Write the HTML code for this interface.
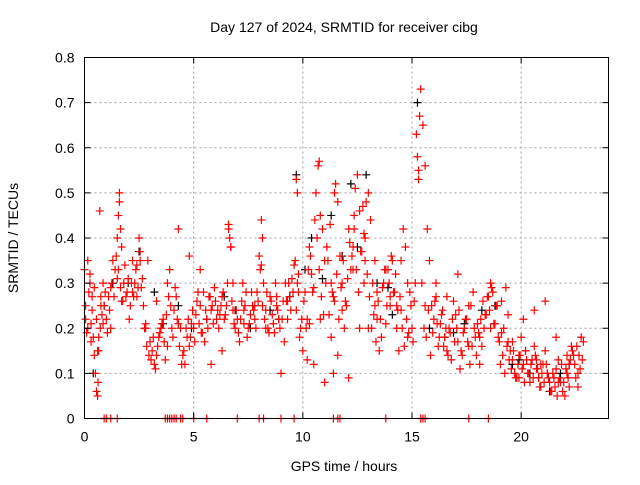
<!DOCTYPE html>
<html><head><meta charset="utf-8"><style>
html,body{margin:0;padding:0;background:#fff;}
svg text{font-family:"Liberation Sans",sans-serif;font-size:14px;fill:#000;}
</style></head><body>
<svg id="chart" width="640" height="480" viewBox="0 0 640 480">
<rect x="0" y="0" width="640" height="480" fill="#fff"/>
<g id="grid"></g>
<g id="black"></g>
<g id="red"></g>
<rect x="84.5" y="57.5" width="524" height="361" fill="none" stroke="#000"/>
<g id="ticks"></g>
<text x="344" y="32" text-anchor="middle">Day 127 of 2024, SRMTID for receiver cibg</text>
<text x="344" y="471" text-anchor="middle">GPS time / hours</text>
<text transform="translate(18,238) rotate(-90)" text-anchor="middle">SRMTID / TECUs</text>
</svg>
<script>
const xTicks=[0,5,10,15,20];
const yTicks=[0,0.1,0.2,0.3,0.4,0.5,0.6,0.7,0.8];
const yTickLabels=["0","0.1","0.2","0.3","0.4","0.5","0.6","0.7","0.8"];
const redT=[0,0.05,0.1,0.15,0.2,0.25,0.3,0.35,0.4,0.45,0.5,0.55,0.6,0.62,0.65,0.7,0.72,0.75,0.8,0.85,0.9,1.0,1.1,1.2,1.3,1.4,1.5,1.55,1.6,1.6,1.65,1.7,1.8,1.9,2.0,2.1,2.2,2.3,2.4,2.5,2.55,2.6,2.7,2.8,2.9,3.0,3.1,3.2,3.3,3.4,3.5,3.6,3.7,3.8,3.9,4.0,4.1,4.2,4.3,4.4,4.5,4.6,4.7,4.8,4.9,5.0,5.1,5.2,5.3,5.4,5.5,5.6,5.7,5.8,5.9,6.0,6.1,6.2,6.3,6.4,6.5,6.6,6.65,6.7,6.8,6.9,7.0,7.1,7.2,7.3,7.4,7.5,7.6,7.7,7.8,7.9,8.0,8.1,8.15,8.2,8.3,8.4,8.5,8.6,8.7,8.8,8.9,9.0,9.1,9.2,9.3,9.4,9.5,9.6,9.7,9.75,9.8,9.9,10.0,10.1,10.2,10.3,10.4,10.5,10.6,10.7,10.75,10.8,10.9,11.0,11.1,11.2,11.3,11.4,11.45,11.5,11.6,11.7,11.8,11.9,12.0,12.1,12.2,12.3,12.35,12.4,12.5,12.6,12.7,12.8,12.85,12.9,13.0,13.1,13.2,13.3,13.4,13.5,13.6,13.7,13.8,13.9,14.0,14.1,14.2,14.3,14.4,14.5,14.6,14.7,14.8,14.9,15.0,15.05,15.1,15.15,15.2,15.25,15.3,15.3,15.35,15.4,15.5,15.6,15.7,15.8,15.9,16.0,16.1,16.2,16.3,16.4,16.5,16.6,16.7,16.8,16.9,17.0,17.1,17.2,17.3,17.4,17.5,17.6,17.7,17.8,17.9,18.0,18.1,18.2,18.3,18.4,18.5,18.6,18.7,18.8,18.9,19.0,19.1,19.2,19.3,19.4,19.5,19.6,19.7,19.8,19.9,20.0,20.1,20.2,20.3,20.4,20.5,20.6,20.7,20.8,20.9,21.0,21.1,21.2,21.3,21.4,21.5,21.6,21.7,21.8,21.9,22.0,22.1,22.2,22.3,22.4,22.5,22.6,22.7,22.8,0.3,0.6,1.2,1.7,2.2,2.8,3.3,3.8,4.3,4.8,5.3,5.8,6.3,6.8,7.3,7.8,8.3,8.8,9.3,9.8,10.3,10.8,11.3,11.8,12.3,12.8,13.3,13.8,14.3,14.8,15.6,16.1,16.6,17.1,17.6,18.1,18.6,19.1,19.6,20.1,20.6,21.1,21.6,22.1,22.6,10.2,10.5,11.0,11.4,11.6,12.1,12.6,13.0,13.4,14.0,14.5,1.5,2.4,6.7,9.7,8.1];
const redV=[0.33,0.22,0.19,0.35,0.28,0.3,0.21,0.24,0.18,0.14,0.1,0.06,0.05,0.08,0.15,0.46,0.2,0.27,0.23,0.3,0.25,0.22,0.27,0.29,0.35,0.33,0.4,0.45,0.5,0.48,0.42,0.38,0.3,0.27,0.31,0.25,0.35,0.3,0.34,0.4,0.37,0.29,0.25,0.2,0.35,0.17,0.15,0.12,0.14,0.18,0.2,0.22,0.13,0.16,0.33,0.2,0.24,0.27,0.21,0.2,0.14,0.12,0.18,0.16,0.21,0.2,0.23,0.28,0.25,0.19,0.17,0.22,0.27,0.24,0.21,0.26,0.24,0.23,0.27,0.22,0.25,0.43,0.4,0.38,0.3,0.2,0.22,0.17,0.26,0.24,0.28,0.2,0.23,0.25,0.22,0.28,0.36,0.44,0.4,0.3,0.24,0.2,0.27,0.23,0.19,0.25,0.22,0.1,0.26,0.3,0.22,0.27,0.31,0.34,0.53,0.5,0.32,0.2,0.15,0.28,0.22,0.38,0.32,0.29,0.5,0.56,0.57,0.45,0.42,0.35,0.38,0.23,0.3,0.27,0.5,0.52,0.48,0.36,0.3,0.2,0.25,0.42,0.33,0.38,0.45,0.51,0.54,0.46,0.37,0.3,0.35,0.48,0.5,0.44,0.3,0.25,0.22,0.15,0.18,0.3,0.21,0.33,0.27,0.35,0.28,0.2,0.15,0.24,0.42,0.38,0.3,0.28,0.2,0.17,0.26,0.3,0.63,0.58,0.55,0.53,0.67,0.73,0.65,0.56,0.42,0.35,0.25,0.22,0.27,0.16,0.21,0.24,0.18,0.15,0.2,0.13,0.26,0.23,0.17,0.11,0.14,0.2,0.22,0.16,0.25,0.28,0.18,0.21,0.12,0.16,0.2,0.23,0.27,0.3,0.28,0.21,0.25,0.17,0.26,0.2,0.29,0.23,0.15,0.13,0.1,0.09,0.14,0.18,0.12,0.15,0.1,0.08,0.13,0.16,0.11,0.09,0.07,0.12,0.15,0.1,0.08,0.06,0.09,0.11,0.13,0.08,0.06,0.05,0.1,0.12,0.16,0.14,0.09,0.07,0.11,0.13,0.17,0.15,0.2,0.26,0.28,0.21,0.26,0.3,0.42,0.36,0.33,0.12,0.15,0.24,0.21,0.25,0.2,0.27,0.26,0.28,0.21,0.22,0.18,0.24,0.33,0.41,0.35,0.33,0.25,0.18,0.25,0.3,0.27,0.32,0.25,0.18,0.2,0.19,0.17,0.22,0.24,0.26,0.18,0.14,0.1,0.13,0.12,0.08,0.1,0.14,0.09,0.2,0.2,0.28,0.25,0.35,0.31,0.27,0.38,0.24,0.34,0.36,0.3,0.35,0.24,0.44];
const redT2=[0.05,0.15,0.25,0.35,0.45,0.55,0.65,0.75,0.85,0.95,1.05,1.15,1.25,1.35,1.45,1.55,1.65,1.75,1.85,1.95,2.05,2.15,2.25,2.35,2.45,2.55,2.65,2.75,2.85,2.95,3.05,3.15,3.25,3.35,3.45,3.55,3.65,3.75,3.85,3.95,4.05,4.15,4.25,4.35,4.45,4.55,4.65,4.75,4.85,4.95,5.05,5.15,5.25,5.35,5.45,5.55,5.65,5.75,5.85,5.95,6.05,6.15,6.25,6.35,6.45,6.55,6.6,6.75,6.85,6.95,7.05,7.15,7.25,7.35,7.45,7.55,7.65,7.75,7.85,7.95,8.05,8.15,8.25,8.35,8.45,8.55,8.65,8.75,8.85,8.95,9.05,9.15,9.25,9.35,9.45,9.55,9.65,9.75,9.85,9.95,10.05,10.15,10.25,10.35,10.45,10.55,10.65,10.75,10.85,10.95,11.05,11.15,11.25,11.35,11.45,11.55,11.65,11.75,11.85,11.95,12.05,12.15,12.25,12.35,12.45,12.55,12.65,12.75,12.85,12.95,13.05,13.15,13.25,13.35,13.45,13.55,13.65,13.75,13.85,13.95,14.05,14.15,14.25,14.35,14.45,14.55,14.65,14.75,14.85,14.95,15.45,15.55,15.65,15.75,15.85,15.95,16.05,16.15,16.25,16.35,16.45,16.55,16.65,16.75,16.85,16.95,17.05,17.15,17.25,17.35,17.45,17.55,17.65,17.75,17.85,17.95,18.05,18.15,18.25,18.35,18.45,18.55,18.65,18.75,18.85,18.95,19.05,19.15,19.25,19.35,19.45,19.55,19.65,19.75,19.85,19.95,20.05,20.15,20.25,20.35,20.45,20.55,20.65,20.75,20.85,20.95,21.05,21.15,21.25,21.35,21.45,21.55,21.65,21.75,21.85,21.95,22.05,22.15,22.25,22.35,22.45,22.55,22.65,22.75,22.85,20.2,20.7,21.2,21.7,22.2,19.4,19.9,20.9];
const redV2=[0.25,0.2,0.32,0.27,0.29,0.22,0.18,0.25,0.21,0.28,0.19,0.24,0.3,0.27,0.36,0.33,0.29,0.26,0.34,0.28,0.22,0.3,0.27,0.33,0.29,0.35,0.31,0.2,0.16,0.14,0.13,0.18,0.11,0.16,0.19,0.21,0.17,0.23,0.27,0.25,0.18,0.29,0.22,0.16,0.12,0.15,0.2,0.22,0.18,0.24,0.17,0.26,0.21,0.19,0.28,0.24,0.2,0.27,0.25,0.29,0.22,0.2,0.25,0.28,0.23,0.3,0.42,0.26,0.21,0.24,0.19,0.22,0.3,0.25,0.18,0.21,0.28,0.24,0.2,0.26,0.33,0.25,0.22,0.28,0.19,0.26,0.21,0.3,0.24,0.2,0.22,0.17,0.26,0.3,0.24,0.28,0.35,0.3,0.18,0.22,0.26,0.2,0.33,0.36,0.28,0.44,0.4,0.33,0.27,0.23,0.3,0.35,0.43,0.28,0.26,0.32,0.22,0.29,0.35,0.26,0.31,0.39,0.36,0.42,0.33,0.28,0.37,0.47,0.4,0.32,0.27,0.2,0.23,0.17,0.26,0.22,0.29,0.33,0.25,0.3,0.36,0.28,0.32,0.24,0.27,0.2,0.16,0.22,0.19,0.25,0.3,0.2,0.18,0.24,0.14,0.19,0.26,0.21,0.18,0.23,0.16,0.2,0.14,0.19,0.22,0.17,0.2,0.24,0.15,0.19,0.22,0.17,0.12,0.16,0.2,0.14,0.19,0.22,0.26,0.23,0.27,0.24,0.29,0.21,0.25,0.18,0.12,0.14,0.1,0.16,0.13,0.11,0.15,0.09,0.12,0.14,0.11,0.08,0.13,0.1,0.12,0.09,0.14,0.11,0.07,0.1,0.08,0.12,0.09,0.06,0.1,0.07,0.05,0.09,0.12,0.08,0.11,0.09,0.13,0.15,0.12,0.16,0.14,0.18,0.17,0.15,0.13,0.1,0.08,0.07,0.17,0.09,0.12];
const blackT=[0.4,1.3,2.5,3.2,4.3,5.6,6.4,7.6,8.5,9.7,10.4,10.9,11.3,11.8,12.2,12.9,13.4,14.1,15.25,15.8,16.5,17.4,18.8,19.6,20.4,21.3,22.2,0.9,2.0,3.6,4.9,6.9,8.9,9.4,10.1,12.5,13.9,16.9,18.2,19.9,20.8,21.8];
const blackV=[0.1,0.3,0.37,0.28,0.25,0.22,0.27,0.2,0.24,0.54,0.4,0.31,0.45,0.36,0.52,0.54,0.3,0.23,0.7,0.2,0.18,0.21,0.25,0.12,0.1,0.06,0.12,0.25,0.3,0.21,0.2,0.24,0.22,0.27,0.33,0.38,0.29,0.19,0.24,0.13,0.09,0.1];
const zeroT=[0.9,1.0,1.2,1.5,3.7,3.8,3.9,4.0,4.1,4.2,4.4,4.5,5.0,5.6,7.0,8.0,8.2,9.0,9.6,11.4,11.6,11.7,13.8,15.4,15.5,15.6,17.6,18.5];

const X0=84.5,X1=608.5,Y0=418.5,Y1=57.5;
function xs(h){return X0+(h/24)*(X1-X0);}
function ys(v){return Y0-(v/0.8)*(Y0-Y1);}
const NS="http://www.w3.org/2000/svg";
const grid=document.getElementById('grid'),ticks=document.getElementById('ticks');
function mk(tag,attrs,parent){const e=document.createElementNS(NS,tag);for(const k in attrs)e.setAttribute(k,attrs[k]);parent.appendChild(e);return e;}
yTicks.forEach((v,i)=>{const y=ys(v);
 if(i>0&&i<yTicks.length-1){const g=mk('line',{x1:X0,x2:X1,y1:y,y2:y,stroke:'#a0a0a0','stroke-dasharray':'2,3'},grid);}
 mk('line',{x1:X0,x2:X0+6,y1:y,y2:y,stroke:'#000'},ticks);mk('line',{x1:X1,x2:X1-6,y1:y,y2:y,stroke:'#000'},ticks);
 const t=mk('text',{x:X0-10,y:y+5,'text-anchor':'end'},ticks);t.textContent=yTickLabels[i];
 });
xTicks.forEach(h=>{const x=xs(h);
 if(h>0){const g=mk('line',{x1:x,x2:x,y1:Y0,y2:Y1,stroke:'#a0a0a0','stroke-dasharray':'2,3'},grid);}
 mk('line',{x1:x,x2:x,y1:Y0,y2:Y0-6,stroke:'#000'},ticks);mk('line',{x1:x,x2:x,y1:Y1,y2:Y1+6,stroke:'#000'},ticks);
 const t=mk('text',{x:x,y:Y0+23,'text-anchor':'middle'},ticks);t.textContent=String(h);
 });
function plus(g,h,v,col){const x=xs(h),y=ys(v);
 const p=mk('path',{d:`M${x-4},${y}h8M${x},${y-4}v8`,stroke:col,'stroke-width':1.2,fill:'none'},g);
 }
const bg=document.getElementById('black'),rg=document.getElementById('red');
blackT.forEach((h,i)=>plus(bg,h,blackV[i],'#000'));
redT.forEach((h,i)=>plus(rg,h,redV[i],'#f00'));
redT2.forEach((h,i)=>plus(rg,h,redV2[i],'#f00'));
zeroT.forEach(h=>plus(rg,h,0,'#f00'));
</script>
</body></html>
